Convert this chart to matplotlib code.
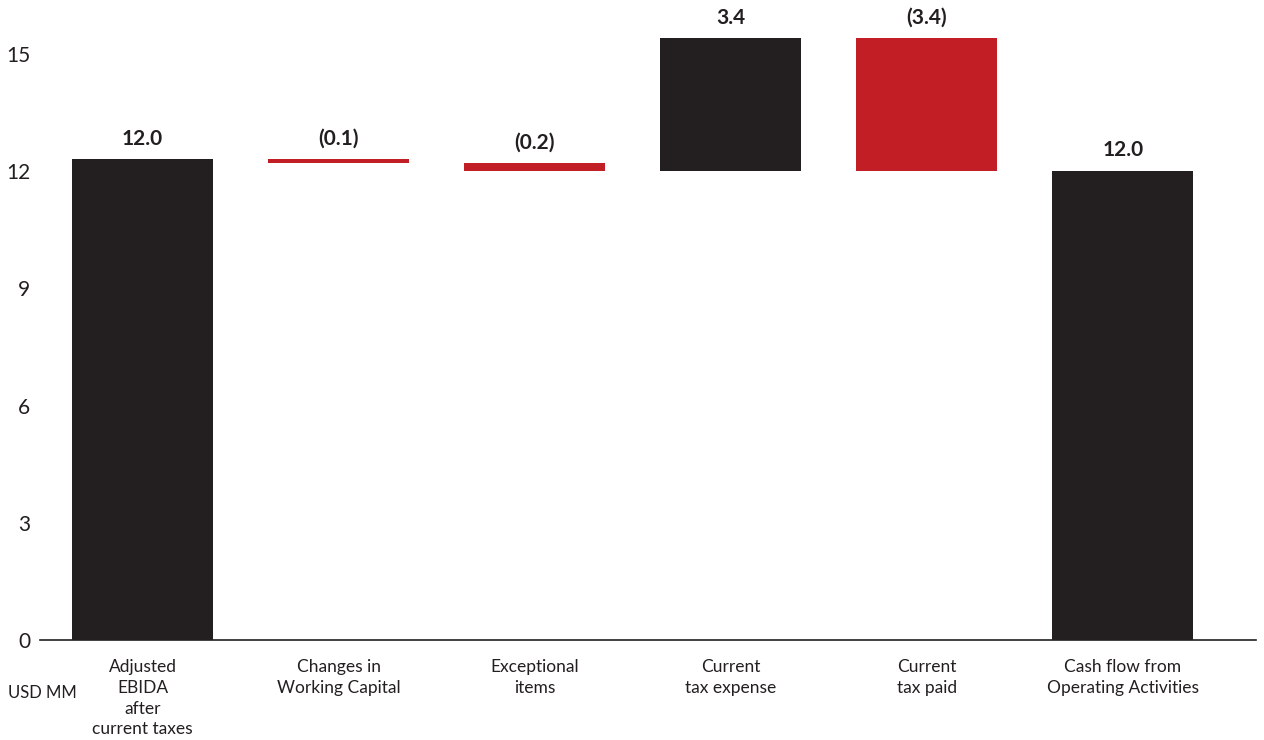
import matplotlib
matplotlib.use("Agg")
import matplotlib.pyplot as plt
import numpy as np

categories = ["Adjusted\nEBIDA\nafter\ncurrent taxes",
              "Changes in\nWorking Capital",
              "Exceptional\nitems",
              "Current\ntax expense",
              "Current\ntax paid",
              "Cash flow from\nOperating Activities"]
start_value = 12.3
changes = [-0.1, -0.2, 3.4, -3.4]
end_value = 12.0
value_labels = ["12.0", "(0.1)", "(0.2)", "3.4", "(3.4)", "12.0"]
yticks = [0, 3, 6, 9, 12, 15]

DARK = "#231F20"
RED = "#C21E25"

plt.rcParams['font.family'] = ['Lato', 'DejaVu Sans']

fig = plt.figure(figsize=(12.64, 7.40), dpi=100)
ax = fig.add_axes([40/1264, 1-640/740, (1256-40)/1264, 640/740])

bottoms, heights, colors = [], [], []
bottoms.append(0); heights.append(start_value); colors.append(DARK)
level = start_value
for c in changes:
    if c >= 0:
        bottoms.append(level); heights.append(c); colors.append(DARK)
    else:
        bottoms.append(level + c); heights.append(-c); colors.append(RED)
    level += c
bottoms.append(0); heights.append(end_value); colors.append(DARK)

x = np.arange(len(categories))
bars = ax.bar(x, heights, bottom=bottoms, width=0.72, color=colors, linewidth=0)

for xi, b, h, lab in zip(x, bottoms, heights, value_labels):
    ax.annotate(lab, (xi, b + h), xytext=(0, 10.5), textcoords="offset points",
                ha="center", va="baseline", fontsize=15, fontweight="bold", color=DARK)

ax.set_xlim(-0.523, 5.68)
ax.set_ylim(0, 640/39.08)
ax.set_yticks(yticks)
ax.set_yticklabels([str(t) for t in yticks], fontsize=15, color=DARK)
ax.set_xticks(x)
ax.set_xticklabels(categories, fontsize=12.5, color=DARK, linespacing=1.36, va="top")
ax.tick_params(axis="both", length=0)
ax.tick_params(axis="y", pad=7)
ax.tick_params(axis="x", pad=14)
for s in ["top", "right", "left"]:
    ax.spines[s].set_visible(False)
ax.spines["bottom"].set_color(DARK)
ax.spines["bottom"].set_linewidth(1.2)

fig.text(8/1264, 1-693/740, "USD MM", fontsize=12, color=DARK, va="center", ha="left")

fig.savefig("out.png", dpi=100)
